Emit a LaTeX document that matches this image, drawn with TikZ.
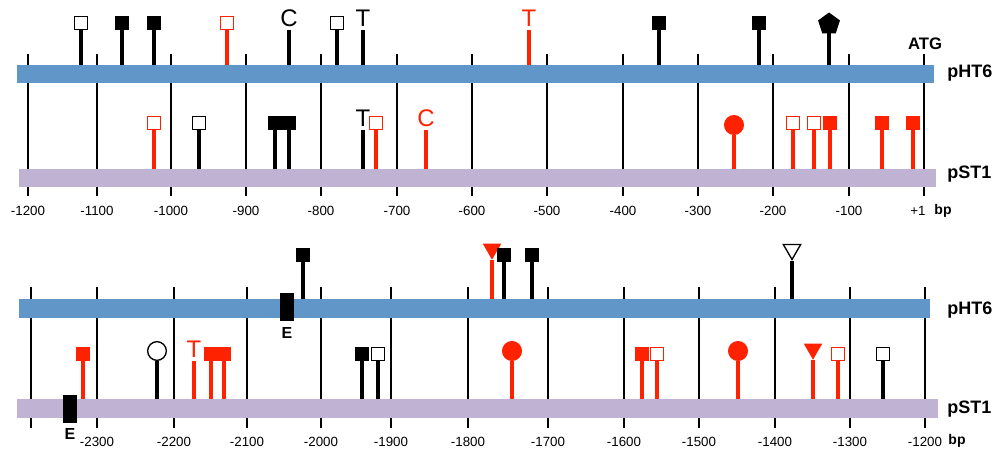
\documentclass[tikz,border=0pt]{standalone}
\usepackage{fontspec}
\setmainfont{Liberation Sans}
\usetikzlibrary{shapes.geometric}
\usetikzlibrary{positioning}
\definecolor{htblue}{RGB}{97,150,200}
\definecolor{stlilac}{RGB}{192,178,211}
\definecolor{snpred}{RGB}{255,34,0}
\tikzstyle{rail}=[rectangle,inner sep=0pt,minimum height=13.5pt]
\tikzstyle{tick}=[line width=1.3pt]
\tikzstyle{ticklab}=[font=\fontsize{10}{10}\selectfont,inner sep=0pt]
\tikzstyle{railname}=[font=\bfseries\fontsize{13.5}{13.5}\selectfont,anchor=west,inner sep=0pt]
\tikzstyle{stem}=[line width=2.6pt]
\tikzstyle{sqfill}=[rectangle,draw,fill,line width=1pt,minimum size=10pt,inner sep=0pt]
\tikzstyle{sqopen}=[rectangle,draw,fill=white,line width=1pt,minimum size=10pt,inner sep=0pt]
\tikzstyle{dotfill}=[circle,draw,fill,line width=1pt,minimum size=14pt,inner sep=0pt]
\tikzstyle{dotopen}=[circle,draw,fill=white,line width=1pt,minimum size=14pt,inner sep=0pt]
\tikzstyle{trifill}=[regular polygon,regular polygon sides=3,shape border rotate=180,draw,fill,line width=1pt,minimum size=14pt,inner sep=0pt]
\tikzstyle{triopen}=[regular polygon,regular polygon sides=3,shape border rotate=180,draw,fill=white,line width=1pt,minimum size=15pt,inner sep=0pt]
\tikzstyle{pentagon}=[regular polygon,regular polygon sides=5,draw,fill,line width=1pt,minimum size=16pt,inner sep=0pt]
\tikzstyle{allele}=[font=\fontsize{18}{18}\selectfont,inner sep=0pt,anchor=south]
\tikzstyle{exon}=[rectangle,fill=black,minimum width=10pt,minimum height=21pt,inner sep=0pt]
\tikzstyle{exonlab}=[font=\bfseries\fontsize{12}{12}\selectfont,inner sep=0pt]

\begin{document}
\begin{tikzpicture}[x=0.75pt,y=-0.75pt]
\useasboundingbox (0,0) rectangle (996,452);

%-1200 .. +1
  \foreach \x/\lab in {28/-1200, 97/-1100, 171/-1000, 246/-900, 321/-800, 397/-700, 472/-600, 547/-500, 623/-400, 698/-300, 773/-200, 849/-100}
  {
    \draw[tick] (\x,54) -- (\x,196);
    \node[ticklab] (ta\x) at (\x,211) {\lab};
  }
  \draw[tick] (924,54) -- (924,196);
  \node[ticklab] (ta924) at (918,211) {+1};
  \node[rail, fill=htblue, minimum width=687.75pt] (hta) at (475.5,74) {};
  \node[rail, fill=stlilac, minimum width=687.75pt] (sta) at (477.5,178) {};
  \node[railname] (nha) at (947,73) {pHT6};
  \node[railname] (nsa) at (947,174) {pST1};
  \node[font=\bfseries\fontsize{12.5}{12.5}\selectfont, inner sep=0pt] (atg) at (925,44) {ATG};
  \node[font=\bfseries\fontsize{10.5}{10.5}\selectfont, inner sep=0pt] (bpa) at (943,211) {bp};

  \foreach \name/\pos/\kind/\col/\rl in {{a1/(81,23)/sqopen/black/hta}, {a2/(122,23)/sqfill/black/hta}, {a3/(154,23)/sqfill/black/hta}, {a4/(227,23)/sqopen/snpred/hta}, {a6/(337,23)/sqopen/black/hta}, {a9/(659,23)/sqfill/black/hta}, {a10/(759,23)/sqfill/black/hta}, {a11/(829,24)/pentagon/black/hta},
      {b1/(154,123)/sqopen/snpred/sta}, {b2/(199,123)/sqopen/black/sta}, {b3/(275,123)/sqfill/black/sta}, {b4/(289,123)/sqfill/black/sta}, {b6/(376,123)/sqopen/snpred/sta}, {b8/(734,125)/dotfill/snpred/sta}, {b9/(793,123)/sqopen/snpred/sta}, {b10/(814,123)/sqopen/snpred/sta}, {b11/(830,123)/sqfill/snpred/sta}, {b12/(882,123)/sqfill/snpred/sta}, {b13/(913,123)/sqfill/snpred/sta}}
  {
    \node[color=\col, \kind] (\name) at \pos {};
    \draw[stem, color=\col] (\name.south) -- (\name.south |- \rl.north);
  }
  \foreach \name/\pos/\lab/\col/\rl in {{a5/(289,27)/C/black/hta}, {a7/(363,27)/T/black/hta}, {a8/(529,27)/T/snpred/hta}, {b5/(363,127)/T/black/sta}, {b7/(426,127)/C/snpred/sta}}
  {
    \node[allele, text=\col] (\name) at \pos {\lab};
    \draw[stem, color=\col] ([yshift=-2.25pt]\name.south) -- (\name.south |- \rl.north);
  }

%-2400 .. -1200
  \foreach \x/\lab in {31/{}, 97/-2300, 174/-2200, 247/-2100, 321/-2000, 391/-1900, 468/-1800, 548/-1700, 624/-1600, 699/-1500, 775/-1400, 850/-1300, 925/-1200}
  {
    \draw[tick] (\x,287) -- (\x,428);
    \node[ticklab] (tb\x) at (\x,442) {\lab};
  }
  \node[rail, fill=htblue, minimum width=683.25pt, minimum height=14.25pt] (htb) at (474.5,308.5) {};
  \node[rail, fill=stlilac, minimum width=690.75pt, minimum height=14.25pt] (stb) at (477.5,408.5) {};
  \node[railname] (nhb) at (947,310) {pHT6};
  \node[railname] (nsb) at (947,409) {pST1};
  \node[font=\bfseries\fontsize{10.5}{10.5}\selectfont, inner sep=0pt] (bpb) at (957,441) {bp};

  \node[exon] (e1) at (287,307) {};
  \node[exonlab, below=4.5pt of e1] (le1) {E};
  \node[exon] (e2) at (70,408.5) {};
  \node[exonlab, below=4pt of e2] (le2) {E};

  \foreach \name/\pos/\kind/\col/\rl in {{c1/(303,255)/sqfill/black/htb}, {c2/(492,249)/trifill/snpred/htb}, {c3/(504,255)/sqfill/black/htb}, {c4/(532,255)/sqfill/black/htb}, {c5/(792,249.5)/triopen/black/htb},
      {d1/(83,354)/sqfill/snpred/stb}, {d2/(157,351)/dotopen/black/stb}, {d4/(211,354)/sqfill/snpred/stb}, {d5/(224,354)/sqfill/snpred/stb}, {d6/(362,354)/sqfill/black/stb}, {d7/(378,354)/sqopen/black/stb}, {d8/(512,351)/dotfill/snpred/stb}, {d9/(642,354)/sqfill/snpred/stb}, {d10/(657,354)/sqopen/snpred/stb}, {d11/(738,351)/dotfill/snpred/stb}, {d12/(813,349)/trifill/snpred/stb}, {d13/(838,354)/sqopen/snpred/stb}, {d14/(883,354)/sqopen/black/stb}}
  {
    \node[color=\col, \kind] (\name) at \pos {};
    \draw[stem, color=\col] (\name.south) -- (\name.south |- \rl.north);
  }
  \foreach \name/\pos/\lab/\col/\rl in {{d3/(194,358)/T/snpred/stb}}
  {
    \node[allele, text=\col] (\name) at \pos {\lab};
    \draw[stem, color=\col] ([yshift=-2.5pt]\name.south) -- (\name.south |- \rl.north);
  }

\end{tikzpicture}
\end{document}
